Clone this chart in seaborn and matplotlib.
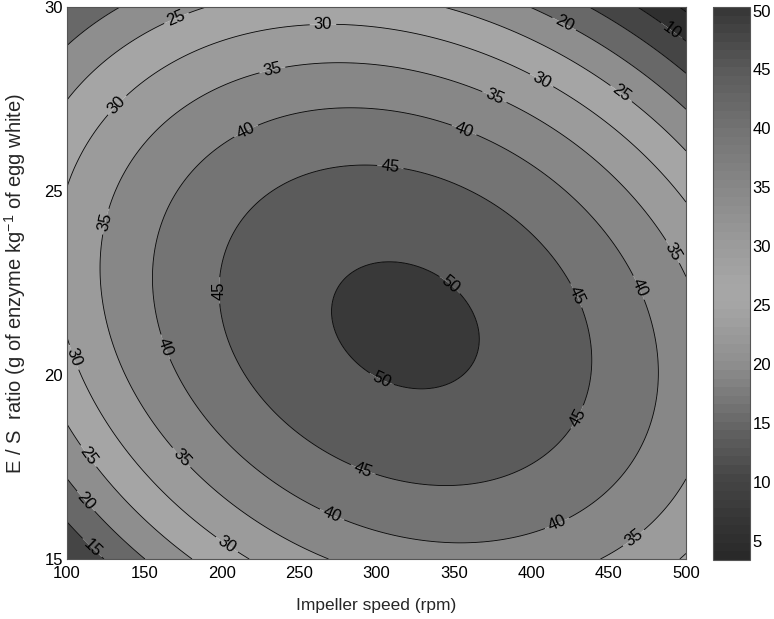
import numpy as np
import matplotlib
matplotlib.use("Agg")
import matplotlib.pyplot as plt
import seaborn as sns
from matplotlib.colors import LinearSegmentedColormap, ListedColormap, Normalize
from matplotlib.cm import ScalarMappable

# ---- response-surface model read from the contour map (coded variables) ----
# u = (speed - 300) / 200 ; v = (E/S - 22.5) / 7.5
model_terms = ["b0", "u", "v", "u2", "v2", "uv"]
model_coefs = [50.46, 2.022, -4.939, -17.178, -18.473, -7.747]

speed_range = [100, 500]          # rpm
es_range = [15, 30]               # g enzyme / kg egg white
contour_levels = [5, 10, 15, 20, 25, 30, 35, 40, 45, 50]
x_ticks = [100, 150, 200, 250, 300, 350, 400, 450, 500]
y_ticks = [15, 20, 25, 30]
cbar_ticks = [5, 10, 15, 20, 25, 30, 35, 40, 45, 50]
cbar_limits = [3.4, 50.3]

# contour-label anchor spots (speed, E/S)
label_speed = [171.7, 265.4, 419.9, 488.0, 233, 405.7, 456, 134.2, 375.3, 216.3, 355.9,
               308.7, 129, 487.7, 465.7, 200.2, 346.2, 427, 105, 163.3, 303.6, 429.6,
               113, 174.3, 291.3, 111.6, 271.2, 416.6, 116.8, 204, 465.7]
label_es = [29.6, 29.54, 29.43, 29.2, 28.23, 27.93, 27.53, 27.26, 27.47, 26.58, 26.58,
            25.57, 24.13, 23.26, 22.3, 22.3, 22.39, 22.12, 20.49, 20.76, 19.92, 18.86,
            17.77, 17.77, 17.42, 16.55, 16.2, 15.98, 15.33, 15.43, 15.6]

# grey colour map (dark at both ends, light in the middle)
cmap_values = [3.4, 10, 15, 20, 25, 27, 30, 35, 40, 45, 50.3]
cmap_greys = [0.16, 0.27, 0.41, 0.56, 0.65, 0.65, 0.61, 0.53, 0.455, 0.36, 0.22]

sns.set_theme(style="ticks")
plt.rcParams['font.family'] = ['Liberation Sans', 'DejaVu Sans']
plt.rcParams['mathtext.fontset'] = 'custom'
plt.rcParams['mathtext.rm'] = 'Liberation Sans'
plt.rcParams['mathtext.it'] = 'Liberation Sans'

fig = plt.figure(figsize=(7.74, 6.19), dpi=100)
ax = fig.add_axes([67/774, 60/619, 619/774, 552/619])
cax = fig.add_axes([713/774, 59/619, 36.6/774, 553/619])

xg = np.linspace(speed_range[0], speed_range[1], 400)
yg = np.linspace(es_range[0], es_range[1], 400)
X, Y = np.meshgrid(xg, yg)
U = (X - 300) / 200
V = (Y - 22.5) / 7.5
b = model_coefs
Z = b[0] + b[1]*U + b[2]*V + b[3]*U*U + b[4]*V*V + b[5]*U*V

vmin, vmax = cbar_limits
nodes = [(vv - vmin) / (vmax - vmin) for vv in cmap_values]
nodes[0], nodes[-1] = 0.0, 1.0
cmap = LinearSegmentedColormap.from_list("greys2", list(zip(nodes, [(g, g, g) for g in cmap_greys])))
cmap64 = ListedColormap(cmap(np.linspace(0, 1, 64)))
norm = Normalize(vmin, vmax)

flev = [min(Z.min(), 0)] + contour_levels + [max(Z.max(), 60)]
fcols = [cmap(norm(min(max(l, vmin), vmax))) for l in flev[:-1]]
ax.contourf(X, Y, Z, levels=flev, colors=fcols, antialiased=True)
cs = ax.contour(X, Y, Z, levels=contour_levels, colors='black', linewidths=0.6)
ax.clabel(cs, fmt='%d', fontsize=12, inline=True, inline_spacing=4,
          manual=list(zip(label_speed, label_es)))

ax.set_xlim(*speed_range)
ax.set_ylim(*es_range)
ax.set_xticks(x_ticks)
ax.set_yticks(y_ticks)
ax.tick_params(direction='in', top=True, right=True, length=4, width=0.6,
               labelsize=12, colors='#222222', labelcolor='black', pad=3)
ax.tick_params(axis='x', pad=5)
for s in ax.spines.values():
    s.set_color('#555555')
    s.set_linewidth(0.8)
ax.set_xlabel("Impeller speed (rpm)", fontsize=12.5, labelpad=12)
ax.set_ylabel("E / S  ratio (g of enzyme kg$^{-1}$ of egg white)", fontsize=14.5, labelpad=12)

cb = fig.colorbar(ScalarMappable(norm=norm, cmap=cmap64), cax=cax)
cb.set_ticks(cbar_ticks)
cb.outline.set_edgecolor('#555555')
cb.outline.set_linewidth(0.8)
cax.tick_params(direction='in', left=True, right=True, length=4, width=0.6,
                labelsize=12, colors='#222222', labelcolor='black', pad=2)

fig.savefig("out.png", dpi=100)
